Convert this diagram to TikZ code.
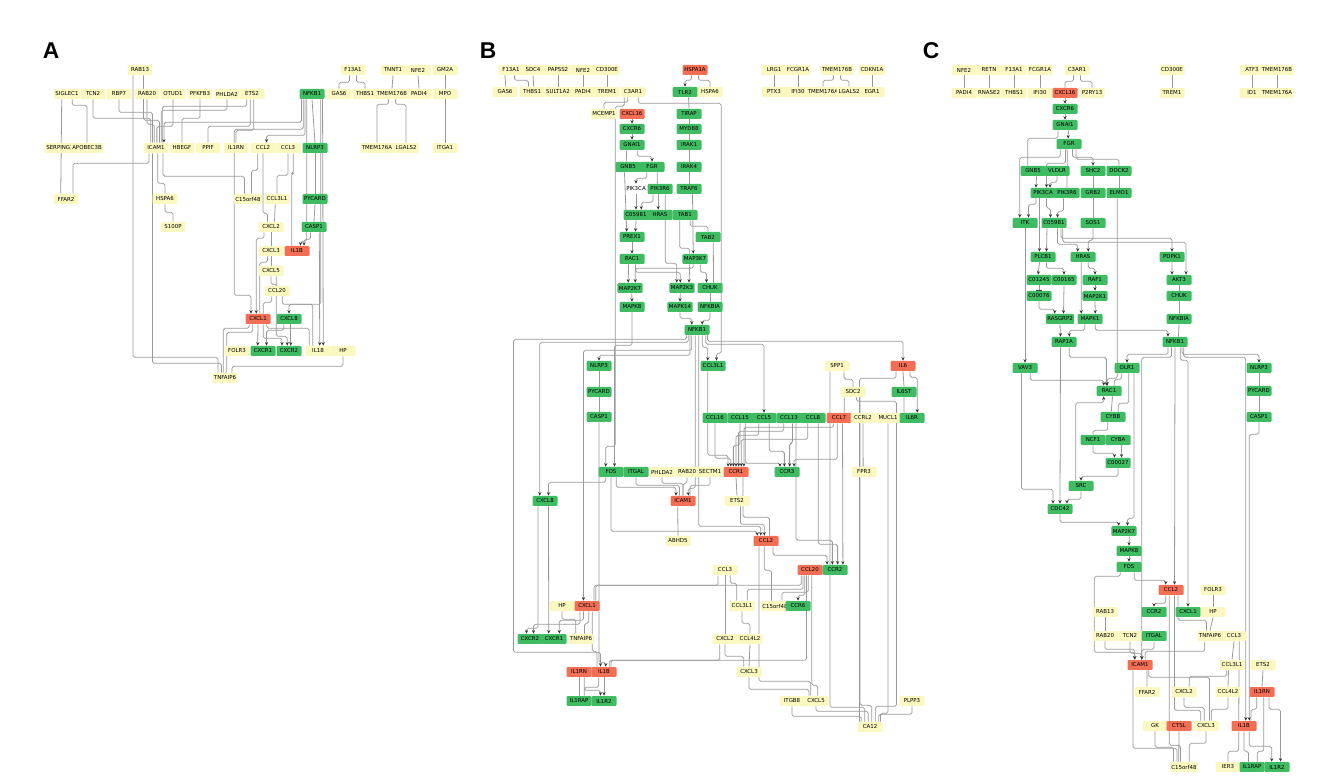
\documentclass[tikz,border=0pt]{standalone}
\usepackage{fontspec}
\setmainfont{DejaVu Sans}
\newfontfamily\panelfont{Liberation Sans}
\usepackage{tikz}
\usetikzlibrary{positioning,arrows.meta}
\definecolor{genegreen}{RGB}{63,187,98}
\definecolor{genered}{RGB}{242,110,84}
\definecolor{geneyellow}{RGB}{250,248,190}
\pgfdeclarelayer{wires}
\pgfsetlayers{wires,main}

\begin{document}
\begin{tikzpicture}[
    x=0.02cm, y=-0.02cm,
    gene/.style={rectangle, rounded corners=0.6pt, minimum width=0.5cm, minimum height=0.2cm, inner xsep=0.8pt, inner ysep=0pt, font=\fontsize{3.1}{3.6}\selectfont},
    yelnode/.style={gene, fill=geneyellow},
    grnnode/.style={gene, fill=genegreen},
    rednode/.style={gene, fill=genered},
    txtnode/.style={gene},
    panel/.style={font=\panelfont\bfseries\fontsize{13}{13}\selectfont},
    link/.style={draw=black!40, line width=0.45pt, rounded corners=1pt},
    ptr/.style={link, -{Stealth[length=2pt,width=1.8pt,color=black!80]}},
    inh/.style={link, -{Bar[width=3pt,color=black!80]}}
]
\useasboundingbox (0,0) rectangle (1319,776);

% Panel labels
\node[panel] (lblA) at (51,51) {A};
\node[panel] (lblB) at (488,51) {B};
\node[panel] (lblC) at (931,51) {C};

% ---------------- Panel A ----------------
\node[yelnode] (aRAB13) at (140,70) {RAB13};
\node[yelnode] (aF13A1) at (353,70) {F13A1};
\node[yelnode] (aTNNT1) at (393,70) {TNNT1};
\node[yelnode] (aNFE2) at (418,70) {NFE2};
\node[yelnode] (aGM2A) at (445,70) {GM2A};
\node[yelnode] (aSIGLEC1) at (67,94) {SIGLEC1};
\node[yelnode] (aTCN2) at (93,94) {TCN2};
\node[yelnode] (aRBP7) at (119,94) {RBP7};
\node[yelnode] (aRAB20) at (147,94) {RAB20};
\node[yelnode] (aOTUD1) at (173,94) {OTUD1};
\node[yelnode] (aPFKFB3) at (200,94) {PFKFB3};
\node[yelnode] (aPHLDA2) at (227,94) {PHLDA2};
\node[yelnode] (aETS2) at (252,94) {ETS2};
\node[grnnode] (aNFKB1) at (312,94) {NFKB1};
\node[yelnode] (aGAS6) at (339,94) {GAS6};
\node[yelnode] (aTHBS1) at (365,94) {THBS1};
\node[yelnode] (aTMEM176B) at (392,94) {TMEM176B};
\node[yelnode] (aPADI4) at (419,94) {PADI4};
\node[yelnode] (aMPO) at (445,94) {MPO};
\node[yelnode] (aSERPING1) at (60,148) {SERPING1};
\node[yelnode] (aAPOBEC3B) at (87,148) {APOBEC3B};
\node[yelnode] (aICAM1) at (156,148) {ICAM1};
\node[yelnode] (aHBEGF) at (182,148) {HBEGF};
\node[yelnode] (aPPIF) at (208,148) {PPIF};
\node[yelnode] (aIL1RN) at (236,148) {IL1RN};
\node[yelnode] (aCCL2) at (263,148) {CCL2};
\node[yelnode] (aCCL3) at (288,148) {CCL3};
\node[grnnode] (aNLRP3) at (315,148) {NLRP3};
\node[yelnode] (aTMEM176A) at (377,148) {TMEM176A};
\node[yelnode] (aLGALS2) at (406,148) {LGALS2};
\node[yelnode] (aITGA1) at (445,148) {ITGA1};
\node[yelnode] (aFFAR2) at (66,199) {FFAR2};
\node[yelnode] (aHSPA6) at (165,199) {HSPA6};
\node[yelnode] (aC15orf48) at (248,199) {C15orf48};
\node[yelnode] (aCCL3L1) at (277,199) {CCL3L1};
\node[grnnode] (aPYCARD) at (315,199) {PYCARD};
\node[yelnode] (aS100P) at (173,227) {S100P};
\node[yelnode] (aCXCL2) at (271,227) {CXCL2};
\node[grnnode] (aCASP1) at (314,227) {CASP1};
\node[yelnode] (aCXCL3) at (271,251) {CXCL3};
\node[rednode] (aIL1B) at (297,251) {IL1B};
\node[yelnode] (aCXCL5) at (271,271) {CXCL5};
\node[yelnode] (aCCL20) at (277,291) {CCL20};
\node[rednode] (aCXCL1) at (258,319) {CXCL1};
\node[grnnode] (aCXCL8) at (289,319) {CXCL8};
\node[yelnode] (aFOLR3) at (237,351) {FOLR3};
\node[grnnode] (aCXCR1) at (263,351) {CXCR1};
\node[grnnode] (aCXCR2) at (289,351) {CXCR2};
\node[yelnode] (aIL18) at (318,351) {IL18};
\node[yelnode] (aHP) at (343,351) {HP};
\node[yelnode] (aTNFAIP6) at (225,378) {TNFAIP6};

% ---------------- Panel B ----------------
\node[yelnode] (bF13A1) at (511,70) {F13A1};
\node[yelnode] (bSDC4) at (533,70) {SDC4};
\node[yelnode] (bPAPSS2) at (558,70) {PAPSS2};
\node[yelnode] (bNFE2) at (583,70) {NFE2};
\node[yelnode] (bCD300E) at (607,70) {CD300E};
\node[rednode] (bHSPA1A) at (695,70) {HSPA1A};
\node[yelnode] (bLRG1) at (774,70) {LRG1};
\node[yelnode] (bFCGR1A) at (798,70) {FCGR1A};
\node[yelnode] (bTMEM176B) at (837,70) {TMEM176B};
\node[yelnode] (bCDKN1A) at (872,70) {CDKN1A};
\node[yelnode] (bGAS6) at (505,92) {GAS6};
\node[yelnode] (bTHBS1) at (532,92) {THBS1};
\node[yelnode] (bSULT1A2) at (558,92) {SULT1A2};
\node[yelnode] (bPADI4) at (583,92) {PADI4};
\node[yelnode] (bTREM1) at (607,92) {TREM1};
\node[yelnode] (bC3AR1) at (633,92) {C3AR1};
\node[grnnode] (bTLR2) at (685,92) {TLR2};
\node[yelnode] (bHSPA6) at (710,92) {HSPA6};
\node[yelnode] (bPTX3) at (774,92) {PTX3};
\node[yelnode] (bIFI30) at (798,92) {IFI30};
\node[yelnode] (bTMEM176A) at (823,92) {TMEM176A};
\node[yelnode] (bLGALS2) at (849,92) {LGALS2};
\node[yelnode] (bEGR1) at (872,92) {EGR1};
\node[yelnode] (bMCEMP1) at (604,114) {MCEMP1};
\node[rednode] (bCXCL16) at (632,114) {CXCL16};
\node[grnnode] (bTIRAP) at (689,114) {TIRAP};
\node[grnnode] (bCXCR6) at (632,129) {CXCR6};
\node[grnnode] (bMYD88) at (689,129) {MYD88};
\node[grnnode] (bGNAI1) at (632,145) {GNAI1};
\node[grnnode] (bIRAK1) at (689,145) {IRAK1};
\node[grnnode] (bGNB5) at (628,167) {GNB5};
\node[grnnode] (bFGR) at (652,167) {FGR};
\node[grnnode] (bIRAK4) at (689,167) {IRAK4};
\node[txtnode] (bPIK3CA) at (636,189) {PIK3CA};
\node[grnnode] (bPIK3R6) at (660,189) {PIK3R6};
\node[grnnode] (bTRAF6) at (689,189) {TRAF6};
\node[grnnode] (bC05981) at (636,215) {C05981};
\node[grnnode] (bHRAS) at (660,215) {HRAS};
\node[grnnode] (bTAB1) at (685,215) {TAB1};
\node[grnnode] (bPREX1) at (632,237) {PREX1};
\node[grnnode] (bTAB2) at (708,237) {TAB2};
\node[grnnode] (bRAC1) at (632,259) {RAC1};
\node[grnnode] (bMAP3K7) at (695,259) {MAP3K7};
\node[grnnode] (bMAP2K7) at (630,288) {MAP2K7};
\node[grnnode] (bMAP2K3) at (682,288) {MAP2K3};
\node[grnnode] (bCHUK) at (710,288) {CHUK};
\node[grnnode] (bMAPK8) at (632,307) {MAPK8};
\node[grnnode] (bMAPK14) at (680,307) {MAPK14};
\node[grnnode] (bNFKBIA) at (710,307) {NFKBIA};
\node[grnnode] (bNFKB1) at (697,330) {NFKB1};
\node[grnnode] (bNLRP3) at (599,366) {NLRP3};
\node[grnnode] (bCCL3L1g) at (713,366) {CCL3L1};
\node[yelnode] (bSPP1) at (837,366) {SPP1};
\node[rednode] (bIL6) at (903,366) {IL6};
\node[grnnode] (bPYCARD) at (599,392) {PYCARD};
\node[yelnode] (bSDC2) at (853,392) {SDC2};
\node[grnnode] (bIL6ST) at (904,392) {IL6ST};
\node[grnnode] (bCASP1) at (599,417) {CASP1};
\node[grnnode] (bCCL16) at (715,418) {CCL16};
\node[grnnode] (bCCL15) at (740,418) {CCL15};
\node[grnnode] (bCCL5) at (764,418) {CCL5};
\node[grnnode] (bCCL13) at (789,418) {CCL13};
\node[grnnode] (bCCL8) at (813,418) {CCL8};
\node[rednode] (bCCL7) at (839,418) {CCL7};
\node[yelnode] (bCCRL2) at (863,418) {CCRL2};
\node[yelnode] (bMUCL1) at (888,418) {MUCL1};
\node[grnnode] (bIL6R) at (912,418) {IL6R};
\node[grnnode] (bFOS) at (611,472) {FOS};
\node[grnnode] (bITGAL) at (636,472) {ITGAL};
\node[yelnode] (bPHLDA2) at (662,472) {PHLDA2};
\node[yelnode] (bRAB20) at (687,472) {RAB20};
\node[yelnode] (bSECTM1) at (710,472) {SECTM1};
\node[rednode] (bCCR1) at (736,472) {CCR1};
\node[grnnode] (bCCR3) at (787,472) {CCR3};
\node[yelnode] (bFPR3) at (864,472) {FPR3};
\node[grnnode] (bCXCL8) at (545,501) {CXCL8};
\node[rednode] (bICAM1) at (683,501) {ICAM1};
\node[yelnode] (bETS2) at (737,501) {ETS2};
\node[yelnode] (bABHD5) at (678,541) {ABHD5};
\node[rednode] (bCCL2) at (766,541) {CCL2};
\node[yelnode] (bCCL3) at (725,570) {CCL3};
\node[rednode] (bCCL20) at (810,570) {CCL20};
\node[grnnode] (bCCR2) at (835,570) {CCR2};
\node[yelnode] (bHP) at (562,606) {HP};
\node[rednode] (bCXCL1) at (587,606) {CXCL1};
\node[yelnode] (bCCL3L1) at (742,606) {CCL3L1};
\node[yelnode] (bC15orf48) at (775,606) {C15orf48};
\node[grnnode] (bCCR6) at (798,606) {CCR6};
\node[grnnode] (bCXCR2) at (530,639) {CXCR2};
\node[grnnode] (bCXCR1) at (554,639) {CXCR1};
\node[yelnode] (bTNFAIP6) at (581,639) {TNFAIP6};
\node[yelnode] (bCXCL2) at (725,639) {CXCL2};
\node[yelnode] (bCCL4L2) at (750,639) {CCL4L2};
\node[rednode] (bIL1RN) at (579,672) {IL1RN};
\node[rednode] (bIL1B) at (604,672) {IL1B};
\node[yelnode] (bCXCL3) at (749,672) {CXCL3};
\node[grnnode] (bIL1RAP) at (579,701) {IL1RAP};
\node[grnnode] (bIL1R2) at (604,701) {IL1R2};
\node[yelnode] (bITGB8) at (792,701) {ITGB8};
\node[yelnode] (bCXCL5) at (816,701) {CXCL5};
\node[yelnode] (bPLPP3) at (912,701) {PLPP3};
\node[yelnode] (bCA12) at (870,727) {CA12};

% ---------------- Panel C ----------------
\node[yelnode] (cNFE2) at (964,70) {NFE2};
\node[yelnode] (cRETN) at (989,70) {RETN};
\node[yelnode] (cF13A1) at (1014,70) {F13A1};
\node[yelnode] (cFCGR1A) at (1040,70) {FCGR1A};
\node[yelnode] (cC3AR1) at (1077,70) {C3AR1};
\node[yelnode] (cCD300E) at (1172,70) {CD300E};
\node[yelnode] (cATF3) at (1252,70) {ATF3};
\node[yelnode] (cTMEM176B) at (1277,70) {TMEM176B};
\node[yelnode] (cPADI4) at (964,93) {PADI4};
\node[yelnode] (cRNASE2) at (989,93) {RNASE2};
\node[yelnode] (cTHBS1) at (1014,93) {THBS1};
\node[yelnode] (cIFI30) at (1040,93) {IFI30};
\node[rednode] (cCXCL16) at (1065,93) {CXCL16};
\node[yelnode] (cP2RY13) at (1092,93) {P2RY13};
\node[yelnode] (cTREM1) at (1172,93) {TREM1};
\node[yelnode] (cID1) at (1252,93) {ID1};
\node[yelnode] (cTMEM176A) at (1277,93) {TMEM176A};
\node[grnnode] (cCXCR6) at (1065,109) {CXCR6};
\node[grnnode] (cGNAI1) at (1065,125) {GNAI1};
\node[grnnode] (cFGR) at (1069,144) {FGR};
\node[grnnode] (cGNB5) at (1033,171) {GNB5};
\node[grnnode] (cVLDLR) at (1057,171) {VLDLR};
\node[grnnode] (cSHC2) at (1093,171) {SHC2};
\node[grnnode] (cDOCK2) at (1119,171) {DOCK2};
\node[grnnode] (cPIK3CA) at (1043,193) {PIK3CA};
\node[grnnode] (cPIK3R6) at (1067,193) {PIK3R6};
\node[grnnode] (cGRB2) at (1093,193) {GRB2};
\node[grnnode] (cELMO1) at (1119,193) {ELMO1};
\node[grnnode] (cITK) at (1025,223) {ITK};
\node[grnnode] (cC05981) at (1054,223) {C05981};
\node[grnnode] (cSOS1) at (1093,223) {SOS1};
\node[grnnode] (cPLCB1) at (1043,257) {PLCB1};
\node[grnnode] (cHRAS) at (1083,257) {HRAS};
\node[grnnode] (cPDPK1) at (1172,257) {PDPK1};
\node[grnnode] (cC01245) at (1039,280) {C01245};
\node[grnnode] (cC00165) at (1064,280) {C00165};
\node[grnnode] (cRAF1) at (1095,280) {RAF1};
\node[grnnode] (cAKT3) at (1179,280) {AKT3};
\node[grnnode] (cC00076) at (1039,296) {C00076};
\node[grnnode] (cMAP2K1) at (1095,296) {MAP2K1};
\node[grnnode] (cCHUK) at (1179,296) {CHUK};
\node[grnnode] (cRASGRP2) at (1060,319) {RASGRP2};
\node[grnnode] (cMAPK1) at (1090,319) {MAPK1};
\node[grnnode] (cNFKBIA) at (1179,319) {NFKBIA};
\node[grnnode] (cRAP1A) at (1064,342) {RAP1A};
\node[grnnode] (cNFKB1) at (1175,342) {NFKB1};
\node[grnnode] (cVAV3) at (1025,368) {VAV3};
\node[grnnode] (cOLR1) at (1127,368) {OLR1};
\node[grnnode] (cNLRP3) at (1259,368) {NLRP3};
\node[grnnode] (cRAC1) at (1109,391) {RAC1};
\node[grnnode] (cPYCARD) at (1259,391) {PYCARD};
\node[grnnode] (cCYBB) at (1113,417) {CYBB};
\node[grnnode] (cCASP1) at (1259,417) {CASP1};
\node[grnnode] (cNCF1) at (1093,440) {NCF1};
\node[grnnode] (cCYBA) at (1118,440) {CYBA};
\node[grnnode] (cC00027) at (1118,463) {C00027};
\node[grnnode] (cSRC) at (1081,486) {SRC};
\node[grnnode] (cCDC42) at (1060,509) {CDC42};
\node[grnnode] (cMAP2K7) at (1124,531) {MAP2K7};
\node[grnnode] (cMAPK8) at (1129,551) {MAPK8};
\node[grnnode] (cFOS) at (1129,567) {FOS};
\node[rednode] (cCCL2) at (1171,590) {CCL2};
\node[yelnode] (cFOLR3) at (1213,590) {FOLR3};
\node[yelnode] (cRAB13) at (1105,612) {RAB13};
\node[grnnode] (cCCR2) at (1154,612) {CCR2};
\node[grnnode] (cCXCL1) at (1188,612) {CXCL1};
\node[yelnode] (cHP) at (1213,612) {HP};
\node[yelnode] (cRAB20) at (1105,636) {RAB20};
\node[yelnode] (cTCN2) at (1130,636) {TCN2};
\node[grnnode] (cITGAL) at (1154,636) {ITGAL};
\node[yelnode] (cTNFAIP6) at (1210,636) {TNFAIP6};
\node[yelnode] (cCCL3) at (1234,636) {CCL3};
\node[rednode] (cICAM1) at (1140,665) {ICAM1};
\node[yelnode] (cCCL3L1) at (1232,665) {CCL3L1};
\node[yelnode] (cETS2) at (1263,665) {ETS2};
\node[yelnode] (cFFAR2) at (1147,692) {FFAR2};
\node[yelnode] (cCXCL2) at (1184,692) {CXCL2};
\node[yelnode] (cCCL4L2) at (1228,692) {CCL4L2};
\node[rednode] (cIL1RN) at (1262,692) {IL1RN};
\node[yelnode] (cGK) at (1155,726) {GK};
\node[rednode] (cCTSL) at (1179,726) {CTSL};
\node[yelnode] (cCXCL3) at (1206,726) {CXCL3};
\node[rednode] (cIL1B) at (1244,726) {IL1B};
\node[yelnode] (cC15orf48) at (1184,767) {C15orf48};
\node[yelnode] (cIER3) at (1228,767) {IER3};
\node[grnnode] (cIL1RAP) at (1252,767) {IL1RAP};
\node[grnnode] (cIL1R2) at (1277,767) {IL1R2};

\begin{pgfonlayer}{wires}
% ---- Panel A connectors
\draw[link] ([xshift=-2pt]aF13A1.south) -- ++(0,7) -| (aGAS6.north);
\draw[link] ([xshift=2pt]aF13A1.south) -- ++(0,7) -| (aTHBS1.north);
\draw[link] (aTNNT1.south) -- (aTMEM176B.north);
\draw[link] (aNFE2.south) -- (aPADI4.north);
\draw[link] (aGM2A.south) -- (aMPO.north);
\draw[link] (aMPO.south) -- (aITGA1.north);
\draw[link] ([xshift=-2pt]aTMEM176B.south) -- ++(0,5) -| (aTMEM176A.north);
\draw[link] ([xshift=2pt]aTMEM176B.south) -- ++(0,5) -| (aLGALS2.north);
\draw[link] ([xshift=-3pt]aSIGLEC1.south) -- ([xshift=-3pt]aFFAR2.north);
\draw[link] ([xshift=3pt]aSIGLEC1.south) -- ++(0,6) -| (aAPOBEC3B.north);
\draw[link] ([xshift=-4pt]aRAB13.south) -- ++(0,282) -| ([xshift=-4pt]aTNFAIP6.north);
\draw[link] ([xshift=2pt]aRAB13.south) -- ++(0,45) -| ([xshift=2pt]aICAM1.north);
\draw[link] (aTCN2.south) -- ++(0,19) -| ([xshift=-3pt]aICAM1.north);
\draw[link] (aRBP7.south) -- ++(0,13) -| ([xshift=-2pt]aICAM1.north);
\draw[link] (aRAB20.south) -- ++(0,25) -| ([xshift=-1pt]aICAM1.north);
\draw[link] (aOTUD1.south) -- ++(0,27) -| ([xshift=0.5pt]aICAM1.north);
\draw[link] (aPFKFB3.south) -- ++(0,19) -| (aHBEGF.north);
\draw[link] (aPHLDA2.south) -- ++(0,11) -| ([xshift=3pt]aICAM1.north);
\draw[link] ([xshift=-3pt]aETS2.south) -- ++(0,7) -| ([xshift=3.5pt]aICAM1.north);
\draw[link] ([xshift=-1pt]aETS2.south) -- ++(0,27) -| (aPPIF.north);
\draw[link] ([xshift=1pt]aETS2.south) -- ++(0,31) -| (aIL1RN.north);
\draw[ptr] ([xshift=-6pt]aNFKB1.south) -- ++(0,23) -| ([xshift=4.5pt]aICAM1.north);
\draw[ptr] ([xshift=-4pt]aNFKB1.south) -- ++(0,36) -| ([xshift=2pt]aCCL2.north);
\draw[ptr] ([xshift=-5pt]aNFKB1.south) -- ++(0,30) -- ++(-69,0) -- ++(0,166) -| ([xshift=-4pt]aCXCL1.north);
\draw[link] (aNFKB1.south) -- (aNLRP3.north);
\draw[link] (aNLRP3.south) -- (aPYCARD.north);
\draw[link] (aPYCARD.south) -- (aCASP1.north);
\draw[ptr] ([xshift=-3pt]aNFKB1.south) -- ++(0,142) -| ([xshift=2pt]aIL1B.north);
\draw[ptr] ([xshift=-2pt]aCASP1.south) -- ++(0,7) -| ([xshift=4pt]aIL1B.north);
\draw[ptr] ([xshift=3pt]aCASP1.south) -- ([xshift=1pt]aIL18.north);
\draw[ptr] ([xshift=6pt]aNFKB1.south) -- ([xshift=3pt]aIL18.north);
\draw[ptr] ([xshift=5pt]aNFKB1.south) -- ++(0,205) -| (aCXCL8.north);
\draw[link] ([xshift=4pt]aICAM1.south) -- ++(0,23) -| ([xshift=-2pt]aC15orf48.north);
\draw[link] ([xshift=1pt]aICAM1.south) -- ++(0,30) -| (aHSPA6.north);
\draw[link] (aHSPA6.south) -- ++(0,8) -| (aS100P.north);
\draw[link] ([xshift=-4pt]aICAM1.south) -- ++(0,10) -| ([xshift=4pt]aFFAR2.north);
\draw[link] ([xshift=-2pt]aICAM1.south) -- ++(0,210) -| ([xshift=-2pt]aTNFAIP6.north);
\draw[link] ([xshift=-3pt]aCCL2.south) -- ++(0,17) -| ([xshift=2pt]aC15orf48.north);
\draw[link] (aCCL2.south) -- ++(0,60) -| ([xshift=-2pt]aCXCL2.north);
\draw[link] (aCCL3.south) -- ++(0,22) -| (aCCL3L1.north);
\draw[link] ([xshift=3pt]aCCL3.south) -- ++(0,20) -| ([xshift=-3pt]aIL1B.north);
\draw[link] ([xshift=-1pt]aCCL3L1.south) -- ([xshift=2pt]aCXCL2.north);
\draw[link] (aCXCL2.south) -- (aCXCL3.north);
\draw[link] (aCXCL3.south) -- (aCXCL5.north);
\draw[link] (aCXCL5.south) -- ++(0,8) -| (aCCL20.north);
\draw[ptr] ([xshift=-4pt]aCXCL2.south) -- ++(0,6) -| ([xshift=-1pt]aCXCL1.north);
\draw[link] ([xshift=-2pt]aCXCL3.south) -- ++(0,6) -| ([xshift=1pt]aCXCL1.north);
\draw[ptr] ([xshift=3pt]aCXCL5.south) -- ++(0,60) -| ([xshift=-1pt]aCXCR2.north);
\draw[link] ([xshift=3pt]aCCL20.south) -- ++(0,8) -| ([xshift=-3pt]aIL18.north);
\draw[link] ([xshift=-3pt]aCCL20.south) -- ++(0,6) -| ([xshift=3pt]aCXCL1.north);
\draw[ptr] (aCXCL1.south) -- ([xshift=-3pt]aCXCR1.north);
\draw[ptr] ([xshift=3pt]aCXCL1.south) -- ++(0,14) -| ([xshift=-4pt]aCXCR2.north);
\draw[ptr] ([xshift=-3pt]aCXCL8.south) -- ++(0,6) -| ([xshift=2pt]aCXCR1.north);
\draw[ptr] ([xshift=1pt]aCXCL8.south) -- ([xshift=1pt]aCXCR2.north);
\draw[link] ([xshift=-3pt]aCXCL1.south) -- ++(0,8) -| ([xshift=1pt]aTNFAIP6.north);
\draw[link] ([xshift=-5pt]aCXCL1.south) -- ++(0,4) -| ([xshift=-1pt]aTNFAIP6.north);
\draw[link] ([xshift=5pt]aCXCL1.south) -- ++(0,4) -| ([xshift=-5pt]aIL18.north);
\draw[link] (aHP.south) -- ++(0,10) -| ([xshift=4pt]aTNFAIP6.north);

% ---- Panel B connectors
\draw[link] ([xshift=-3.5pt]bF13A1.south) -- ([xshift=0.5pt]bGAS6.north);
\draw[link] ([xshift=2pt]bF13A1.south) -- ++(0,5) -| ([xshift=-2pt]bTHBS1.north);
\draw[link] (bSDC4.south) -- ([xshift=1pt]bTHBS1.north);
\draw[link] (bPAPSS2.south) -- (bSULT1A2.north);
\draw[link] (bNFE2.south) -- (bPADI4.north);
\draw[link] (bCD300E.south) -- (bTREM1.north);
\draw[ptr] ([xshift=-2pt]bHSPA1A.south) -- ++(0,5) -| (bTLR2.north);
\draw[link] ([xshift=2pt]bHSPA1A.south) -- ++(0,5) -| (bHSPA6.north);
\draw[link] (bLRG1.south) -- (bPTX3.north);
\draw[link] (bFCGR1A.south) -- (bIFI30.north);
\draw[link] (bCDKN1A.south) -- (bEGR1.north);
\draw[link] ([xshift=-2pt]bTMEM176B.south) -- ++(0,5) -| (bTMEM176A.north);
\draw[link] ([xshift=2pt]bTMEM176B.south) -- ++(0,5) -| (bLGALS2.north);
\draw[link] ([xshift=-3pt]bC3AR1.south) -- ++(0,5) -| (bMCEMP1.north);
\draw[ptr] ([xshift=3pt]bC3AR1.south) -- ++(0,6) -- ++(83,0) -- ++(0,250) -| ([xshift=2pt]bCCL3L1g.north);
\draw[ptr] ([xshift=-5pt]bC3AR1.south) -- ++(0,9) -- ++(-9,0) -- ++(0,340) -| ([xshift=-3pt]bFOS.north);
\draw[ptr] (bCXCL16.south) -- (bCXCR6.north);
\draw[ptr] (bCXCR6.south) -- (bGNAI1.north);
\draw[ptr] ([xshift=3pt]bGNAI1.south) -- ++(0,6) -| (bFGR.north);
\draw[link] ([xshift=-3pt]bGNAI1.south) -- ([xshift=-1pt]bGNB5.north);
\draw[ptr] ([xshift=-2pt]bGNB5.south) -- ([xshift=-3pt]bPREX1.north);
\draw[ptr] ([xshift=-3pt]bFGR.south) -- ++(0,6) -| (bPIK3CA.north);
\draw[link] ([xshift=3pt]bFGR.south) -- ([xshift=-1.5pt]bPIK3R6.north);
\draw[ptr] ([xshift=3pt]bPIK3R6.south) -- ++(0,69) -| ([xshift=-3pt]bMAP2K3.north);
\draw[ptr] (bPIK3CA.south) -- (bC05981.north);
\draw[ptr] ([xshift=-1pt]bPIK3R6.south) -- ([xshift=-1pt]bHRAS.north);
\draw[ptr] ([xshift=-4pt]bPIK3R6.south) -- ++(0,8) -| ([xshift=3pt]bC05981.north);
\draw[ptr] (bC05981.south) -- ([xshift=2pt]bPREX1.north);
\draw[ptr] (bPREX1.south) -- (bRAC1.north);
\draw[ptr] ([xshift=-2pt]bRAC1.south) -- ([xshift=-1pt]bMAP2K7.north);
\draw[ptr] ([xshift=2pt]bRAC1.south) -- ++(0,8) -| ([xshift=-1pt]bMAP2K3.north);
\draw[ptr] ([xshift=1pt]bMAP2K7.south) -- (bMAPK8.north);
\draw[ptr] ([xshift=-1pt]bMAP2K3.south) -- (bMAPK14.north);
\draw[link] ([xshift=2pt]bTLR2.south) -- (bTIRAP.north);
\draw[link] (bTIRAP.south) -- (bMYD88.north);
\draw[link] (bMYD88.south) -- (bIRAK1.north);
\draw[link] (bIRAK1.south) -- (bIRAK4.north);
\draw[link] (bIRAK4.south) -- (bTRAF6.north);
\draw[ptr] ([xshift=2pt]bTRAF6.south) -- ([xshift=-1pt]bMAP3K7.north);
\draw[link] ([xshift=-3pt]bTAB1.south) -- ++(0,28) -| ([xshift=-3pt]bMAP3K7.north);
\draw[link] ([xshift=3pt]bTAB1.south) -- ++(0,6) -| (bTAB2.north);
\draw[link] ([xshift=3pt]bTAB2.south) -- ([xshift=2pt]bCHUK.north);
\draw[ptr] ([xshift=-3pt]bMAP3K7.south) -- ([xshift=4pt]bMAP2K3.north);
\draw[ptr] ([xshift=3pt]bMAP3K7.south) -- ++(0,8) -| ([xshift=-2pt]bCHUK.north);
\draw[ptr] ([xshift=-1pt]bMAP3K7.south) -- ++(0,4) -| ([xshift=3pt]bMAP2K7.north);
\draw[link] (bCHUK.south) -- (bNFKBIA.north);
\draw[ptr] (bNFKBIA.south) -- ++(0,8) -| ([xshift=3pt]bNFKB1.north);
\draw[ptr] (bMAPK14.south) -- ++(0,6) -| ([xshift=-3pt]bNFKB1.north);
\draw[ptr] (bMAPK8.south) -- ++(0,33) -| ([xshift=2pt]bFOS.north);
\draw[ptr] ([xshift=-4pt]bNFKB1.south) -- ++(0,20) -| (bNLRP3.north);
\draw[ptr] ([xshift=-5pt]bNFKB1.south) -- ++(0,7) -| ([xshift=-3pt]bCXCL8.north);
\draw[ptr] ([xshift=-6pt]bNFKB1.south) -- ++(0,4) -- ++(-173,0) -- ++(0,313) -| ([xshift=-2pt]bIL1B.north);
\draw[ptr] ([xshift=-3pt]bNFKB1.south) -- ++(0,15) -| ([xshift=-2pt]bCXCL1.north);
\draw[ptr] ([xshift=3pt]bNFKB1.south) -- ++(0,12) -| ([xshift=-3pt]bCCL3L1g.north);
\draw[ptr] ([xshift=5pt]bNFKB1.south) -- ++(0,9) -| (bCCL5.north);
\draw[ptr] ([xshift=6pt]bNFKB1.south) -- ++(0,6) -| (bIL6.north);
\draw[ptr] ([xshift=-1pt]bNFKB1.south) -- ++(0,153) -| ([xshift=3pt]bICAM1.north);
\draw[ptr] ([xshift=1pt]bNFKB1.south) -- ++(0,191) -| ([xshift=-3pt]bCCL2.north);
\draw[link] (bNLRP3.south) -- (bPYCARD.north);
\draw[link] (bPYCARD.south) -- (bCASP1.north);
\draw[ptr] (bCASP1.south) -- ++(0,240) -| ([xshift=1pt]bIL1B.north);
\draw[link] ([xshift=4pt]bSPP1.south) -- ++(0,8) -| (bSDC2.north);
\draw[link] ([xshift=-4pt]bSPP1.south) -- ++(0,336) -| ([xshift=-3pt]bCA12.north);
\draw[link] ([xshift=-5pt]bSDC2.south) -- ([xshift=3pt]bCCL7.north);
\draw[link] ([xshift=4pt]bSDC2.south) -- ++(0,308) -| ([xshift=1pt]bCA12.north);
\draw[link] ([xshift=2pt]bSDC2.south) -- ++(0,4) -- ++(40,0) -- ++(0,305) -| ([xshift=3pt]bCA12.north);
\draw[link] (bMUCL1.south) -- ++(0,290) -| ([xshift=6pt]bCA12.north);
\draw[link] (bIL6.south) -- (bIL6ST.north);
\draw[ptr] ([xshift=4pt]bIL6.south) -- ++(0,6) -| ([xshift=3pt]bIL6R.north);
\draw[link] ([xshift=-4pt]bIL6.south) -- ++(0,7) -| ([xshift=-6pt]bCA12.north);
\draw[link] (bIL6ST.south) -- ([xshift=-4.5pt]bIL6R.north);
\draw[link] (bCCRL2.south) -- ([xshift=-0.5pt]bFPR3.north);
\draw[ptr] ([xshift=-3pt]bCCL3L1g.south) -- ++(0,84) -| ([xshift=-4.5pt]bCCR1.north);
\draw[ptr] (bCCL16.south) -- ++(0,35) -| ([xshift=-3pt]bCCR1.north);
\draw[ptr] (bCCL15.south) -- ++(0,22) -| ([xshift=-1.5pt]bCCR1.north);
\draw[ptr] ([xshift=-3pt]bCCL5.south) -- ++(0,12) -| (bCCR1.north);
\draw[ptr] ([xshift=-3pt]bCCL13.south) -- ++(0,8) -| ([xshift=1.5pt]bCCR1.north);
\draw[ptr] ([xshift=-3pt]bCCL8.south) -- ++(0,16) -| ([xshift=3pt]bCCR1.north);
\draw[ptr] ([xshift=-3pt]bCCL7.south) -- ++(0,4) -| ([xshift=4.5pt]bCCR1.north);
\draw[ptr] ([xshift=3pt]bCCL15.south) -- ++(0,40) -| ([xshift=-4pt]bCCR3.north);
\draw[ptr] ([xshift=3pt]bCCL5.south) -- ++(0,28) -| ([xshift=-1.5pt]bCCR3.north);
\draw[ptr] ([xshift=2pt]bCCL13.south) -- ++(0,20) -| ([xshift=1.5pt]bCCR3.north);
\draw[ptr] ([xshift=-1pt]bCCL7.south) -- ++(0,36) -| ([xshift=4pt]bCCR3.north);
\draw[ptr] ([xshift=2pt]bCCL7.south) -- ([xshift=4.5pt]bCCR2.north);
\draw[ptr] ([xshift=3pt]bCCL8.south) -- ++(0,121) -| ([xshift=1.5pt]bCCR2.north);
\draw[ptr] ([xshift=4pt]bCCL13.south) -- ++(0,117) -| ([xshift=-1.5pt]bCCR2.north);
\draw[ptr] ([xshift=4pt]bCCL2.south) -- ++(0,9) -| ([xshift=-4.5pt]bCCR2.north);
\draw[link] (bCCR1.south) -- (bETS2.north);
\draw[ptr] ([xshift=2pt]bETS2.south) -- ++(0,18) -| ([xshift=-1pt]bCCL2.north);
\draw[link] ([xshift=4pt]bCCR1.south) -- ++(0,40) -| ([xshift=2pt]bCCL2.north);
\draw[ptr] ([xshift=3pt]bFOS.south) -- ++(0,10) -| ([xshift=-4pt]bICAM1.north);
\draw[ptr] ([xshift=-3pt]bFOS.south) -- ++(0,5) -| ([xshift=2pt]bCXCL8.north);
\draw[ptr] (bFOS.south) -- ++(0,54) -| ([xshift=-5pt]bCCL2.north);
\draw[link] (bITGAL.south) -- ++(0,8) -| ([xshift=-2pt]bICAM1.north);
\draw[link] (bPHLDA2.south) -- ++(0,6) -| (bICAM1.north);
\draw[link] (bRAB20.south) -- ++(0,6) -| (bICAM1.north);
\draw[link] (bSECTM1.south) -- ++(0,8) -| ([xshift=4pt]bICAM1.north);
\draw[link] ([xshift=-3pt]bICAM1.south) -- (bABHD5.north);
\draw[link] ([xshift=-1pt]bCCL2.south) -- ++(0,24) -| ([xshift=-2pt]bC15orf48.north);
\draw[link] ([xshift=-4pt]bCCL2.south) -- ++(0,135) -| ([xshift=-3pt]bCXCL5.north);
\draw[ptr] ([xshift=-3pt]bCCL20.south) -- ++(0,20) -| (bCCR6.north);
\draw[link] ([xshift=-5pt]bCCL20.south) -- ++(0,10) -| ([xshift=4pt]bCXCL1.north);
\draw[link] ([xshift=-4pt]bCCL20.south) -- ++(0,14) -| ([xshift=3pt]bCCL3L1.north);
\draw[link] ([xshift=-2pt]bCCL20.south) -- ++(0,85) -| ([xshift=4pt]bIL1B.north);
\draw[link] ([xshift=1pt]bCCL20.south) -- ++(0,110) -| ([xshift=1pt]bCXCL5.north);
\draw[link] ([xshift=-1pt]bCCL20.south) -- ++(0,17) -| ([xshift=4pt]bC15orf48.north);
\draw[ptr] ([xshift=-4pt]bCXCL1.south) -- ++(0,13) -| ([xshift=2pt]bCXCR2.north);
\draw[ptr] ([xshift=-4pt]bCXCL8.south) -- ++(0,122) -| ([xshift=-2pt]bCXCR2.north);
\draw[ptr] ([xshift=2pt]bCXCL8.south) -- ([xshift=-3pt]bCXCR1.north);
\draw[ptr] ([xshift=-2pt]bCXCL1.south) -- ++(0,9) -| ([xshift=3pt]bCXCR1.north);
\draw[link] ([xshift=1pt]bCXCL1.south) -- ++(0,12) -| ([xshift=2pt]bTNFAIP6.north);
\draw[link] (bHP.south) -- ++(0,8) -| ([xshift=-3pt]bTNFAIP6.north);
\draw[link] ([xshift=3pt]bCXCL1.south) -- ++(0,40) -| ([xshift=-4pt]bIL1B.north);
\draw[link] (bIL1RN.south) -- (bIL1RAP.north);
\draw[ptr] ([xshift=3pt]bIL1RN.south) -- ++(0,13) -| ([xshift=-2pt]bIL1R2.north);
\draw[ptr] (bIL1B.south) -- (bIL1R2.north);
\draw[link] ([xshift=-3pt]bIL1B.south) -- ++(0,10) -| ([xshift=3pt]bIL1RAP.north);
\draw[link] (bCCL3.south) -- (bCXCL2.north);
\draw[link] ([xshift=3pt]bCCL3.south) -- ++(0,8) -| ([xshift=-3pt]bCCL3L1.north);
\draw[link] ([xshift=-4pt]bCCL3.south) -- ++(0,10) -| ([xshift=5pt]bCXCL1.north);
\draw[link] (bCCL3L1.south) -- ++(0,12) -| (bCCL4L2.north);
\draw[link] (bCCL4L2.south) -- (bCXCL3.north);
\draw[link] (bCXCL2.south) -- ++(0,12) -| ([xshift=-3pt]bCXCL3.north);
\draw[link] ([xshift=-3pt]bCXCL2.south) -- ++(0,16) -| ([xshift=3pt]bIL1B.north);
\draw[link] (bCXCL3.south) -- ++(0,12) -| ([xshift=-4pt]bCXCL5.north);
\draw[link] (bITGB8.south) -- ++(0,10) -| ([xshift=-5pt]bCA12.north);
\draw[link] (bCXCL5.south) -- ++(0,5) -| ([xshift=-1pt]bCA12.north);
\draw[link] (bPLPP3.south) -- ++(0,8) -| ([xshift=5pt]bCA12.north);

% ---- Panel C connectors
\draw[link] (cNFE2.south) -- (cPADI4.north);
\draw[link] (cRETN.south) -- (cRNASE2.north);
\draw[link] (cF13A1.south) -- (cTHBS1.north);
\draw[link] (cFCGR1A.south) -- (cIFI30.north);
\draw[link] (cCD300E.south) -- (cTREM1.north);
\draw[link] (cATF3.south) -- (cID1.north);
\draw[link] (cTMEM176B.south) -- (cTMEM176A.north);
\draw[link] ([xshift=-2pt]cC3AR1.south) -- ++(0,6) -| (cCXCL16.north);
\draw[link] ([xshift=2pt]cC3AR1.south) -- ++(0,6) -| (cP2RY13.north);
\draw[ptr] (cCXCL16.south) -- (cCXCR6.north);
\draw[ptr] (cCXCR6.south) -- (cGNAI1.north);
\draw[ptr] ([xshift=2pt]cGNAI1.south) -- ([xshift=-0.5pt]cFGR.north);
\draw[link] ([xshift=-4pt]cGNAI1.south) -- ++(0,8) -| ([xshift=-3pt]cGNB5.north);
\draw[ptr] ([xshift=-5pt]cFGR.south) -- ++(0,8) -| ([xshift=-3pt]cITK.north);
\draw[ptr] ([xshift=-2pt]cFGR.south) -- ++(0,14) -| ([xshift=2pt]cPIK3CA.north);
\draw[link] ([xshift=-1pt]cFGR.south) -- (cPIK3R6.north);
\draw[ptr] ([xshift=2pt]cFGR.south) -- ++(0,8) -| (cSHC2.north);
\draw[link] ([xshift=4pt]cFGR.south) -- ++(0,10) -| (cDOCK2.north);
\draw[link] (cDOCK2.south) -- (cELMO1.north);
\draw[ptr] ([xshift=-1pt]cELMO1.south) -- ++(0,180) -| ([xshift=-1pt]cRAC1.north);
\draw[ptr] ([xshift=2pt]cGNB5.south) -- ([xshift=-4pt]cPIK3CA.north);
\draw[ptr] (cVLDLR.south) -- ++(0,6) -| ([xshift=4pt]cPIK3CA.north);
\draw[link] (cSHC2.south) -- (cGRB2.north);
\draw[link] (cGRB2.south) -- (cSOS1.north);
\draw[ptr] (cSOS1.south) -- ++(0,12) -| ([xshift=3pt]cHRAS.north);
\draw[ptr] ([xshift=-4pt]cPIK3CA.south) -- ++(0,6) -| ([xshift=2pt]cITK.north);
\draw[ptr] ([xshift=2pt]cPIK3CA.south) -- ++(0,10) -| ([xshift=-2pt]cC05981.north);
\draw[ptr] ([xshift=-2pt]cPIK3R6.south) -- ++(0,13) -| ([xshift=2pt]cC05981.north);
\draw[ptr] ([xshift=-2pt]cPIK3CA.south) -- ([xshift=-2pt]cPLCB1.north);
\draw[ptr] ([xshift=-4pt]cC05981.south) -- ([xshift=2pt]cPLCB1.north);
\draw[ptr] ([xshift=2pt]cC05981.south) -- ++(0,16) -| ([xshift=-3pt]cHRAS.north);
\draw[ptr] ([xshift=4pt]cC05981.south) -- ++(0,10) -| (cPDPK1.north);
\draw[ptr] ([xshift=5pt]cC05981.south) -- ++(0,14) -| ([xshift=4pt]cAKT3.north);
\draw[ptr] (cPDPK1.south) -- ([xshift=-4pt]cAKT3.north);
\draw[link] (cAKT3.south) -- (cCHUK.north);
\draw[link] (cCHUK.south) -- (cNFKBIA.north);
\draw[link] (cNFKBIA.south) -- ([xshift=2pt]cNFKB1.north);
\draw[ptr] ([xshift=-2pt]cPLCB1.south) -- ([xshift=-0.5pt]cC01245.north);
\draw[ptr] ([xshift=2pt]cPLCB1.south) -- ++(0,6) -| (cC00165.north);
\draw[inh] (cC01245.south) -- (cC00076.north);
\draw[ptr] (cC00076.south) -- ++(0,8) -| ([xshift=-3pt]cRASGRP2.north);
\draw[ptr] (cC00165.south) -- ([xshift=2pt]cRASGRP2.north);
\draw[ptr] ([xshift=3pt]cHRAS.south) -- ++(0,6) -| (cRAF1.north);
\draw[ptr] (cRAF1.south) -- (cMAP2K1.north);
\draw[ptr] (cMAP2K1.south) -- ([xshift=3pt]cMAPK1.north);
\draw[ptr] ([xshift=-1pt]cHRAS.south) -- ([xshift=-5pt]cMAPK1.north);
\draw[ptr] (cRASGRP2.south) -- ([xshift=-2pt]cRAP1A.north);
\draw[ptr] ([xshift=-3pt]cMAPK1.south) -- ++(0,6) -| ([xshift=3pt]cRAP1A.north);
\draw[ptr] ([xshift=3pt]cMAPK1.south) -- ++(0,6) -| ([xshift=-4pt]cNFKB1.north);
\draw[ptr] (cITK.south) -- (cVAV3.north);
\draw[ptr] ([xshift=3pt]cVAV3.south) -- ++(0,7) -| ([xshift=-3pt]cRAC1.north);
\draw[ptr] ([xshift=-2pt]cVAV3.south) -- ++(0,116) -| ([xshift=-4pt]cCDC42.north);
\draw[ptr] ([xshift=-2pt]cRAP1A.south) -- (cCDC42.north);
\draw[ptr] ([xshift=3pt]cRAP1A.south) -- ++(0,10) -| ([xshift=-1.5pt]cRAC1.north);
\draw[ptr] ([xshift=-4pt]cNFKB1.south) -- ++(0,7) -| (cOLR1.north);
\draw[ptr] ([xshift=4pt]cNFKB1.south) -- ++(0,7) -| (cNLRP3.north);
\draw[link] (cNLRP3.south) -- (cPYCARD.north);
\draw[link] (cPYCARD.south) -- (cCASP1.north);
\draw[ptr] (cCASP1.south) -- ++(0,12) -| ([xshift=3pt]cIL1B.north);
\draw[ptr] ([xshift=5pt]cNFKB1.south) -- ++(0,10) -| ([xshift=1pt]cIL1B.north);
\draw[ptr] ([xshift=3pt]cNFKB1.south) -- ++(0,13) -| (cCXCL1.north);
\draw[ptr] (cNFKB1.south) -- ([xshift=2pt]cCCL2.north);
\draw[ptr] ([xshift=-2pt]cNFKB1.south) -- ++(0,10) -| ([xshift=1pt]cICAM1.north);
\draw[ptr] ([xshift=4pt]cOLR1.south) -- ++(0,145) -| ([xshift=2pt]cMAP2K7.north);
\draw[link] ([xshift=-3pt]cOLR1.south) -- ++(0,6) -| ([xshift=3pt]cRAC1.north);
\draw[link] ([xshift=1pt]cOLR1.south) -- ++(0,30) -| ([xshift=3pt]cCYBB.north);
\draw[link] ([xshift=2pt]cRAC1.south) -- ([xshift=-1pt]cCYBB.north);
\draw[link] ([xshift=-3pt]cCYBB.south) -- ++(0,8) -| (cNCF1.north);
\draw[ptr] (cNCF1.south) -- ++(0,8) -| ([xshift=-2pt]cC00027.north);
\draw[ptr] ([xshift=2pt]cCYBA.south) -- ([xshift=2pt]cC00027.north);
\draw[ptr] (cC00027.south) -- ++(0,8) -| (cSRC.north);
\draw[ptr] (cSRC.south) -- ++(0,8) -| ([xshift=4pt]cCDC42.north);
\draw[ptr] ([xshift=-3pt]cSRC.north) -- ++(0,-78) -| ([xshift=-3pt]cRAC1.south);
\draw[ptr] (cCDC42.south) -- ++(0,8) -| ([xshift=-3pt]cMAP2K7.north);
\draw[ptr] ([xshift=3pt]cMAP2K7.south) -- (cMAPK8.north);
\draw[ptr] (cMAPK8.south) -- (cFOS.north);
\draw[ptr] ([xshift=3pt]cFOS.south) -- ++(0,8) -| ([xshift=-3pt]cCCL2.north);
\draw[ptr] ([xshift=-5pt]cFOS.south) -- ++(0,4) -- ++(-26,0) -- ++(0,76) -| ([xshift=-3pt]cICAM1.north);
\draw[ptr] ([xshift=-3pt]cCCL2.south) -- ++(0,8) -| (cCCR2.north);
\draw[link] ([xshift=-1pt]cCCL2.south) -- ++(0,150) -| ([xshift=-2pt]cC15orf48.north);
\draw[link] ([xshift=2pt]cCCL2.south) -- ++(0,115) -| ([xshift=-3pt]cCXCL3.north);
\draw[link] ([xshift=4pt]cCCL2.south) -- ++(0,25) -| ([xshift=-2pt]cTNFAIP6.north);
\draw[link] (cFOLR3.south) -- (cHP.north);
\draw[link] (cHP.south) -- (cTNFAIP6.north);
\draw[link] (cRAB13.south) -- (cRAB20.north);
\draw[ptr] (cRAB20.south) -- ++(0,8) -| ([xshift=-3pt]cICAM1.north);
\draw[link] (cTCN2.south) -- ++(0,12) -| ([xshift=1pt]cICAM1.north);
\draw[ptr] (cITGAL.south) -- ++(0,8) -| ([xshift=1pt]cICAM1.north);
\draw[link] ([xshift=-3pt]cTNFAIP6.south) -- ++(0,10) -| ([xshift=3pt]cICAM1.north);
\draw[link] ([xshift=4pt]cICAM1.south) -- (cFFAR2.north);
\draw[link] ([xshift=-4pt]cICAM1.south) -- ++(0,78) -| ([xshift=-4pt]cC15orf48.north);
\draw[link] ([xshift=5pt]cICAM1.south) -- ++(0,7) -| ([xshift=2pt]cCXCL3.north);
\draw[link] (cCCL3.south) -- (cCCL3L1.north);
\draw[link] ([xshift=3pt]cCCL3.south) -- ([xshift=-3pt]cIL1B.north);
\draw[link] ([xshift=-3pt]cCCL3L1.south) -- ++(0,6) -| ([xshift=3pt]cCXCL2.north);
\draw[link] ([xshift=-2pt]cCCL3L1.south) -- (cCCL4L2.north);
\draw[link] (cCCL4L2.south) -- ++(0,12) -| ([xshift=3pt]cCXCL3.north);
\draw[link] (cCXCL2.south) -- ++(0,10) -| ([xshift=-1pt]cCXCL3.north);
\draw[link] (cETS2.south) -- (cIL1RN.north);
\draw[link] ([xshift=-3pt]cIL1RN.south) -- ++(0,12) -| ([xshift=4pt]cIL1B.north);
\draw[ptr] ([xshift=4pt]cIL1RN.south) -- ++(0,12) -| ([xshift=2pt]cIL1R2.north);
\draw[link] ([xshift=1pt]cIL1RN.south) -- ++(0,54) -| ([xshift=3pt]cIL1RAP.north);
\draw[ptr] ([xshift=3pt]cIL1B.south) -- ++(0,15) -| ([xshift=-3pt]cIL1R2.north);
\draw[link] (cIL1B.south) -- ++(0,20) -| ([xshift=-2pt]cIL1RAP.north);
\draw[link] ([xshift=-3pt]cIL1B.south) -- ++(0,20) -| (cIER3.north);
\draw[link] (cGK.south) -- ++(0,16) -| ([xshift=-6pt]cC15orf48.north);
\draw[link] (cCTSL.south) -- ([xshift=-3pt]cC15orf48.north);
\draw[link] (cCXCL3.south) -- ++(0,12) -| ([xshift=3pt]cC15orf48.north);
\end{pgfonlayer}
\end{tikzpicture}
\end{document}
